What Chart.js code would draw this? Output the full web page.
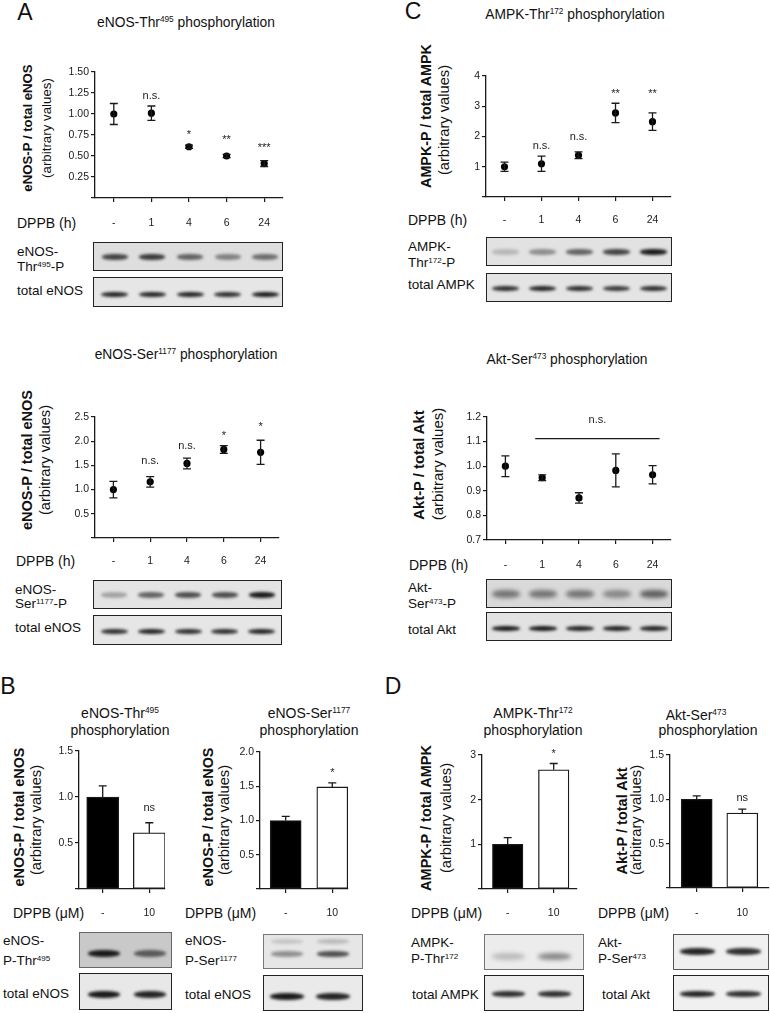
<!DOCTYPE html>
<html>
<head>
<meta charset="utf-8">
<script src="https://cdn.jsdelivr.net/npm/chart.js@4.4.1/dist/chart.umd.min.js"></script>
<style>
  body { margin: 0; background: #fff; }
  #page { position: relative; width: 770px; height: 1013px; overflow: hidden;
          font-family: 'Liberation Sans', Arial, sans-serif; color: #111; }
  .t { position: absolute; white-space: nowrap; line-height: 1; }
  .c { transform: translate(-50%, -50%); text-align: center; }
  .l { transform: translateY(-50%); }
  .rot { transform: translate(-50%, -50%) rotate(-90deg); }
  .b { font-weight: bold; }
  sup { font-size: 0.6em; vertical-align: baseline; position: relative; top: -0.55em; }
  canvas { position: absolute; }
  .blot { position: absolute; box-sizing: border-box; overflow: hidden; }
  .band { position: absolute; border-radius: 45%; }
</style>
</head>
<body>
<div id="page">
  <!-- panel A -->
  <div class="t c" style="left:25px;top:12px;font-size:23px">A</div>
  <div class="t c" style="left:186px;top:23px;font-size:13.8px">eNOS-Thr<sup>495</sup> phosphorylation</div>
  <div class="t rot b" style="left:28px;top:128px;font-size:13.2px">eNOS-P / total eNOS</div>
  <div class="t rot" style="left:47px;top:128px;font-size:13.3px">(arbitrary values)</div>
  <div class="t l" style="left:17px;top:223px;font-size:14px">DPPB (h)</div>
  <div class="t l" style="left:17px;top:252px;font-size:13.5px">eNOS-</div>
  <div class="t l" style="left:17px;top:267px;font-size:13.5px">Thr<sup>495</sup>-P</div>
  <div class="t l" style="left:17px;top:291px;font-size:13.5px">total eNOS</div>

  <div class="t c" style="left:186px;top:355px;font-size:13.8px">eNOS-Ser<sup>1177</sup> phosphorylation</div>
  <div class="t rot b" style="left:27px;top:460px;font-size:14.5px">eNOS-P / total eNOS</div>
  <div class="t rot" style="left:45px;top:460px;font-size:14.7px">(arbitrary values)</div>
  <div class="t l" style="left:16px;top:561px;font-size:14px">DPPB (h)</div>
  <div class="t l" style="left:15px;top:590px;font-size:13.5px">eNOS-</div>
  <div class="t l" style="left:15px;top:604px;font-size:13.5px">Ser<sup>1177</sup>-P</div>
  <div class="t l" style="left:15px;top:628px;font-size:13.5px">total eNOS</div>

  <!-- panel C -->
  <div class="t c" style="left:413px;top:11px;font-size:23px">C</div>
  <div class="t c" style="left:575px;top:15px;font-size:13.8px">AMPK-Thr<sup>172</sup> phosphorylation</div>
  <div class="t rot b" style="left:426px;top:116px;font-size:14.3px">AMPK-P / total AMPK</div>
  <div class="t rot" style="left:444px;top:120px;font-size:14.7px">(arbitrary values)</div>
  <div class="t l" style="left:408px;top:220px;font-size:14px">DPPB (h)</div>
  <div class="t l" style="left:408px;top:247px;font-size:13.5px">AMPK-</div>
  <div class="t l" style="left:408px;top:263px;font-size:13.5px">Thr<sup>172</sup>-P</div>
  <div class="t l" style="left:408px;top:285px;font-size:13.5px">total AMPK</div>

  <div class="t c" style="left:567px;top:360px;font-size:13.8px">Akt-Ser<sup>473</sup> phosphorylation</div>
  <div class="t rot b" style="left:419px;top:465px;font-size:14.8px">Akt-P / total Akt</div>
  <div class="t rot" style="left:437px;top:464px;font-size:15px">(arbitrary values)</div>
  <div class="t l" style="left:409px;top:565px;font-size:14px">DPPB (h)</div>
  <div class="t l" style="left:408px;top:588px;font-size:13.5px">Akt-</div>
  <div class="t l" style="left:408px;top:604px;font-size:13.5px">Ser<sup>473</sup>-P</div>
  <div class="t l" style="left:408px;top:630px;font-size:13.5px">total Akt</div>

  <!-- panel B -->
  <div class="t c" style="left:8px;top:686px;font-size:23px">B</div>
  <div class="t c" style="left:120px;top:722px;font-size:14px;line-height:15px">eNOS-Thr<sup>495</sup><br>phosphorylation</div>
  <div class="t rot b" style="left:19px;top:817px;font-size:14.4px">eNOS-P / total eNOS</div>
  <div class="t rot" style="left:36px;top:820px;font-size:14.7px">(arbitrary values)</div>
  <div class="t l" style="left:13px;top:913px;font-size:14px">DPPB (μM)</div>
  <div class="t l" style="left:3px;top:941px;font-size:13.5px">eNOS-</div>
  <div class="t l" style="left:3px;top:961px;font-size:13.5px">P-Thr<sup>495</sup></div>
  <div class="t l" style="left:3px;top:994px;font-size:13.5px">total eNOS</div>

  <div class="t c" style="left:309px;top:722px;font-size:14px;line-height:15px">eNOS-Ser<sup>1177</sup><br>phosphorylation</div>
  <div class="t rot b" style="left:208px;top:817px;font-size:14.4px">eNOS-P / total eNOS</div>
  <div class="t rot" style="left:224px;top:820px;font-size:14.7px">(arbitrary values)</div>
  <div class="t l" style="left:185px;top:913px;font-size:14px">DPPB (μM)</div>
  <div class="t l" style="left:185px;top:941px;font-size:13.5px">eNOS-</div>
  <div class="t l" style="left:185px;top:961px;font-size:13.5px">P-Ser<sup>1177</sup></div>
  <div class="t l" style="left:185px;top:995px;font-size:13.5px">total eNOS</div>

  <!-- panel D -->
  <div class="t c" style="left:393px;top:686px;font-size:23px">D</div>
  <div class="t c" style="left:533px;top:722px;font-size:14px;line-height:15px">AMPK-Thr<sup>172</sup><br>phosphorylation</div>
  <div class="t rot b" style="left:426px;top:818px;font-size:14.5px">AMPK-P / total AMPK</div>
  <div class="t rot" style="left:446px;top:818px;font-size:14.7px">(arbitrary values)</div>
  <div class="t l" style="left:411px;top:913px;font-size:14px">DPPB (μM)</div>
  <div class="t l" style="left:411px;top:943px;font-size:13.5px">AMPK-</div>
  <div class="t l" style="left:411px;top:959px;font-size:13.5px">P-Thr<sup>172</sup></div>
  <div class="t l" style="left:412px;top:995px;font-size:13.5px">total AMPK</div>

  <div class="t c" style="left:696px;top:715px;font-size:14px">Akt-Ser<sup>473</sup></div>
  <div class="t c" style="left:708px;top:730px;font-size:14px">phosphorylation</div>
  <div class="t rot b" style="left:622px;top:821px;font-size:14.5px">Akt-P / total Akt</div>
  <div class="t rot" style="left:636px;top:820px;font-size:14.7px">(arbitrary values)</div>
  <div class="t l" style="left:598px;top:913px;font-size:14px">DPPB (μM)</div>
  <div class="t l" style="left:598px;top:943px;font-size:13.5px">Akt-</div>
  <div class="t l" style="left:598px;top:959px;font-size:13.5px">P-Ser<sup>473</sup></div>
  <div class="t l" style="left:602px;top:995px;font-size:13.5px">total Akt</div>
</div>

<script>
// ---- data ----
const hoursLabels = ['-', '1', '4', '6', '24'];
const doseLabels = ['-', '10'];

// A: eNOS-Thr495 time course
const thr495Mean = [1.00, 1.01, 0.61, 0.50, 0.41];
const thr495Err = [0.125, 0.085, 0.02, 0.02, 0.035];
const thr495Sig = ['', 'n.s.', '*', '**', '***'];
const thr495SigAt = [null, 1.215, 0.75, 0.69, 0.60];

// A: eNOS-Ser1177 time course
const ser1177Mean = [1.00, 1.16, 1.54, 1.83, 1.77];
const ser1177Err = [0.17, 0.11, 0.11, 0.08, 0.25];
const ser1177Sig = ['', 'n.s.', 'n.s.', '*', '*'];
const ser1177SigAt = [null, 1.60, 1.90, 2.11, 2.29];

// C: AMPK-Thr172 time course
const ampkMean = [1.00, 1.10, 1.38, 2.78, 2.49];
const ampkErr = [0.15, 0.25, 0.11, 0.32, 0.29];
const ampkSig = ['', 'n.s.', 'n.s.', '**', '**'];
const ampkSigAt = [null, 1.69, 1.99, 3.40, 3.40];

// C: Akt-Ser473 time course (one n.s. bracket over 1-24 h)
const aktMean = [1.000, 0.953, 0.871, 0.983, 0.965];
const aktErr = [0.042, 0.012, 0.021, 0.067, 0.037];
const aktSig = ['', '', '', '', ''];
const aktSigAt = [null, null, null, null, null];

// B / D: 10 µM DPPB vs control
const barThr495 = [1.00, 0.61];
const barThr495Err = [0.12, 0.11];
const barThr495Sig = ['', 'ns'];
const barThr495SigAt = [null, 0.88];

const barSer1177 = [1.00, 1.49];
const barSer1177Err = [0.06, 0.06];
const barSer1177Sig = ['', '*'];
const barSer1177SigAt = [null, 1.69];

const barAmpk = [1.00, 2.67];
const barAmpkErr = [0.15, 0.14];
const barAmpkSig = ['', '*'];
const barAmpkSigAt = [null, 3.02];

const barAkt = [1.00, 0.845];
const barAktErr = [0.04, 0.045];
const barAktSig = ['', 'ns'];
const barAktSigAt = [null, 1.013];

// band darkness of the blots (0 = none, 1 = black)
const blotThr495P = [0.75, 0.8, 0.6, 0.45, 0.55];
const blotThr495T = [0.9, 0.9, 0.9, 0.85, 0.95];
const blotSer1177P = [0.3, 0.6, 0.7, 0.7, 0.95];
const blotSer1177T = [0.85, 0.9, 0.85, 0.85, 0.9];
const blotAmpkP = [0.2, 0.4, 0.6, 0.75, 0.95];
const blotAmpkT = [0.85, 0.9, 0.85, 0.8, 0.85];
const blotAktP = [0.5, 0.5, 0.5, 0.4, 0.6];
const blotAktT = [0.95, 0.95, 0.9, 0.9, 0.9];

// ---- layout ----
const page = document.getElementById('page');
const ML = 44, MR = 14, MT = 18, MB = 40;
const ink = '#1a1a1a';
const tickFont = "'Liberation Sans Narrow','Liberation Sans',Arial,sans-serif";

const errorBars = {
    id: 'errorBars',
    afterDatasetsDraw(chart, args, opts) {
        const { ctx, scales: { y } } = chart;
        const ds = chart.data.datasets[0].data;
        const pts = chart.getDatasetMeta(0).data;
        ctx.save();
        ctx.strokeStyle = ink;
        ctx.lineWidth = 1.3;
        pts.forEach((el, i) => {
            const v = typeof ds[i] === 'object' ? ds[i].y : ds[i];
            const top = y.getPixelForValue(v + opts.err[i]);
            const bot = opts.upOnly ? el.y : y.getPixelForValue(v - opts.err[i]);
            ctx.beginPath();
            ctx.moveTo(el.x, top); ctx.lineTo(el.x, bot);
            ctx.moveTo(el.x - opts.cap, top); ctx.lineTo(el.x + opts.cap, top);
            if (!opts.upOnly) { ctx.moveTo(el.x - opts.cap, bot); ctx.lineTo(el.x + opts.cap, bot); }
            ctx.stroke();
        });
        ctx.fillStyle = '#222';
        ctx.textAlign = 'center';
        ctx.textBaseline = 'middle';
        ctx.font = '11px "Liberation Sans", Arial, sans-serif';
        pts.forEach((el, i) => {
            if (opts.sig[i]) ctx.fillText(opts.sig[i], el.x, y.getPixelForValue(opts.sigAt[i]));
        });
        const br = opts.bracket;
        if (br) {
            const yy = y.getPixelForValue(br.at);
            ctx.beginPath();
            ctx.moveTo(pts[br.from].x - 7, yy);
            ctx.lineTo(pts[br.to].x + 7, yy);
            ctx.stroke();
            ctx.fillText(br.label, (pts[br.from].x + pts[br.to].x) / 2, y.getPixelForValue(br.labelAt));
        }
        ctx.restore();
    }
};

function makeCanvas(box) {
    const c = document.createElement('canvas');
    c.width = box.right - box.left + ML + MR;
    c.height = box.bottom - box.top + MT + MB;
    c.style.left = (box.left - ML) + 'px';
    c.style.top = (box.top - MT) + 'px';
    page.appendChild(c);
    return c;
}

function yScale(ax) {
    return {
        min: ax.min, max: ax.max,
        ticks: {
            stepSize: ax.step, color: ink, padding: 2,
            font: { family: tickFont, size: 10.5 },
            callback: v => (Math.abs(v) < 1e-9 && !ax.zero) ? '' : Number(v).toFixed(ax.dec)
        },
        grid: { drawOnChartArea: false, color: ink, tickLength: 4, lineWidth: 1.2 },
        border: { color: ink, width: 1.3 },
        afterFit: s => { s.width = ML; }
    };
}

function xCommon(box, size) {
    return {
        grid: { offset: false, drawOnChartArea: false, color: ink, tickLength: 4, lineWidth: 1.2 },
        border: { color: ink, width: 1.3 },
        ticks: { color: ink, font: { family: tickFont, size }, padding: box.labelY - box.bottom - 4 - 0.6 * size,
                 maxRotation: 0, autoSkip: false },
        afterFit: s => { s.height = MB; }
    };
}

const baseOpts = {
    responsive: false, animation: false, events: [],
    layout: { padding: { top: MT, right: MR, left: 0, bottom: 0 }, autoPadding: false },
};

function timePanel(box, means, err, sig, sigAt, ax, bracket) {
    const x = xCommon(box, 10.5);
    x.type = 'category';
    x.offset = true;
    return new Chart(makeCanvas(box), {
        type: 'line',
        data: { labels: hoursLabels, datasets: [{ data: means, showLine: false, pointRadius: 3.6,
                pointBackgroundColor: '#000', pointBorderWidth: 0 }] },
        options: { ...baseOpts,
            plugins: { legend: { display: false }, tooltip: { enabled: false },
                       errorBars: { err, sig, sigAt, cap: 4, bracket } },
            scales: { x, y: yScale(ax) } },
        plugins: [errorBars]
    });
}

function dosePanel(box, means, err, sig, sigAt, ax) {
    const [t0, t1] = box.ticksPx;
    const x = xCommon(box, 10.5);
    Object.assign(x, {
        type: 'linear', offset: false,
        min: 1 - (t0 - box.left) / (t1 - t0),
        max: 2 + (box.right - t1) / (t1 - t0),
        afterBuildTicks: s => { s.ticks = doseLabels.map((_, i) => ({ value: i + 1 })); }
    });
    x.ticks.callback = v => doseLabels[Math.round(v) - 1] ?? '';
    return new Chart(makeCanvas(box), {
        type: 'bar',
        data: { datasets: [{ data: means.map((v, i) => ({ x: i + 1, y: v })),
                backgroundColor: ['#000', '#fff'], borderColor: ink, borderWidth: 1.3,
                borderSkipped: false, barThickness: box.barW }] },
        options: { ...baseOpts,
            plugins: { legend: { display: false }, tooltip: { enabled: false },
                       errorBars: { err, sig, sigAt, cap: 4, upOnly: true } },
            scales: { x, y: yScale(ax) } },
        plugins: [errorBars]
    });
}

// page x of each lane, taken from the chart's own x scale
function lanes(chart, box) {
    const s = chart.scales.x;
    return chart.getDatasetMeta(0).data.map(el => box.left - ML + el.x);
}

function blot(b, lanesX, rows) {
    const d = document.createElement('div');
    d.className = 'blot';
    Object.assign(d.style, { left: b.x + 'px', top: b.y + 'px', width: b.w + 'px', height: b.h + 'px',
                             background: b.bg, border: b.border || '1.5px solid #222' });
    page.appendChild(d);
    rows.forEach(r => {
        r.shade.forEach((a, i) => {
            const e = document.createElement('div');
            e.className = 'band';
            Object.assign(e.style, {
                left: (lanesX[i] - b.x - r.w / 2) + 'px', top: (r.y - b.y - r.h / 2) + 'px',
                width: r.w + 'px', height: r.h + 'px',
                background: `rgba(15,15,15,${a})`, filter: `blur(${r.blur || 1.6}px)`
            });
            d.appendChild(e);
        });
    });
}

// ---- panels ----
const boxA1 = { left: 95, right: 283, top: 72, bottom: 198, labelY: 223 };
const chA1 = timePanel(boxA1, thr495Mean, thr495Err, thr495Sig, thr495SigAt, { min: 0, max: 1.5, step: 0.25, dec: 2 });
const laneA1 = lanes(chA1, boxA1);
blot({ x: 93, y: 242, w: 190, h: 29, bg: '#dedede' }, laneA1, [{ y: 256, w: 26, h: 6, shade: blotThr495P }]);
blot({ x: 93, y: 277, w: 190, h: 30, bg: '#e6e6e6' }, laneA1, [{ y: 293, w: 27, h: 5, shade: blotThr495T }]);

const boxA2 = { left: 95, right: 279, top: 417, bottom: 538, labelY: 561 };
const chA2 = timePanel(boxA2, ser1177Mean, ser1177Err, ser1177Sig, ser1177SigAt, { min: 0, max: 2.5, step: 0.5, dec: 1 });
const laneA2 = lanes(chA2, boxA2);
blot({ x: 93, y: 580, w: 189, h: 29, bg: '#e4e4e4' }, laneA2, [{ y: 594, w: 26, h: 6, shade: blotSer1177P }]);
blot({ x: 93, y: 615, w: 189, h: 30, bg: '#e6e6e6' }, laneA2, [{ y: 630, w: 27, h: 5, shade: blotSer1177T }]);

const boxC1 = { left: 486, right: 671, top: 76, bottom: 197, labelY: 220 };
const chC1 = timePanel(boxC1, ampkMean, ampkErr, ampkSig, ampkSigAt, { min: 0, max: 4, step: 1, dec: 0 });
const laneC1 = lanes(chC1, boxC1);
blot({ x: 486, y: 237, w: 186, h: 29, bg: '#e2e2e2' }, laneC1, [{ y: 251, w: 27, h: 6, shade: blotAmpkP }]);
blot({ x: 486, y: 273, w: 186, h: 29, bg: '#e4e4e4' }, laneC1, [{ y: 287, w: 27, h: 5, shade: blotAmpkT }]);

const boxC2 = { left: 487, right: 671, top: 417, bottom: 540, labelY: 565 };
const chC2 = timePanel(boxC2, aktMean, aktErr, aktSig, aktSigAt, { min: 0.7, max: 1.2, step: 0.1, dec: 1, zero: true },
    { from: 1, to: 4, at: 1.112, label: 'n.s.', labelAt: 1.186 });
const laneC2 = lanes(chC2, boxC2);
blot({ x: 486, y: 579, w: 186, h: 29, bg: '#d9d9d9' }, laneC2, [{ y: 593, w: 28, h: 8, blur: 2.2, shade: blotAktP }]);
blot({ x: 486, y: 612, w: 186, h: 29, bg: '#e2e2e2' }, laneC2, [{ y: 627, w: 28, h: 5, shade: blotAktT }]);

const boxB1 = { left: 79, right: 165, top: 751, bottom: 889, labelY: 913, ticksPx: [102.7, 149.3], barW: 32 };
const chB1 = dosePanel(boxB1, barThr495, barThr495Err, barThr495Sig, barThr495SigAt, { min: 0, max: 1.5, step: 0.5, dec: 1 });
const laneB1 = lanes(chB1, boxB1);
blot({ x: 79, y: 932, w: 93, h: 36, bg: '#c9c9c9', border: '1.2px solid #666' }, laneB1, [{ y: 952, w: 32, h: 7, shade: [0.95, 0.6] }]);
blot({ x: 79, y: 973, w: 93, h: 37, bg: '#e8e8e8' }, laneB1, [{ y: 993, w: 32, h: 7, shade: [0.95, 0.9] }]);

const boxB2 = { left: 260, right: 348, top: 752, bottom: 889, labelY: 913, ticksPx: [285.7, 332.3], barW: 31 };
const chB2 = dosePanel(boxB2, barSer1177, barSer1177Err, barSer1177Sig, barSer1177SigAt, { min: 0, max: 2.0, step: 0.5, dec: 1 });
const laneB2 = lanes(chB2, boxB2);
blot({ x: 263, y: 934, w: 100, h: 35, bg: '#e6e6e6', border: '1.2px solid #777' }, laneB2,
     [{ y: 940, w: 32, h: 5, shade: [0.15, 0.2] }, { y: 953, w: 32, h: 6, shade: [0.4, 0.7] }]);
blot({ x: 263, y: 975, w: 100, h: 36, bg: '#eaeaea' }, laneB2, [{ y: 995, w: 34, h: 7, shade: [0.95, 0.9] }]);

const boxD1 = { left: 482, right: 577, top: 755, bottom: 889, labelY: 913, ticksPx: [507.7, 553.7], barW: 30.5 };
const chD1 = dosePanel(boxD1, barAmpk, barAmpkErr, barAmpkSig, barAmpkSigAt, { min: 0, max: 3, step: 1, dec: 0 });
const laneD1 = lanes(chD1, boxD1);
blot({ x: 484, y: 934, w: 100, h: 36, bg: '#ececec', border: '1.2px solid #777' }, laneD1, [{ y: 955, w: 33, h: 7, blur: 2.2, shade: [0.22, 0.45] }]);
blot({ x: 484, y: 975, w: 100, h: 36, bg: '#ececec' }, laneD1, [{ y: 993, w: 33, h: 6, shade: [0.85, 0.85] }]);

const boxD2 = { left: 670, right: 769, top: 755, bottom: 888, labelY: 913, ticksPx: [696.7, 742.3], barW: 31 };
const chD2 = dosePanel(boxD2, barAkt, barAktErr, barAktSig, barAktSigAt, { min: 0, max: 1.5, step: 0.5, dec: 1 });
const laneD2 = lanes(chD2, boxD2);
blot({ x: 673, y: 934, w: 96, h: 36, bg: '#f0f0f0', border: '1.2px solid #555' }, laneD2, [{ y: 950, w: 35, h: 7, shade: [0.9, 0.85] }]);
blot({ x: 673, y: 975, w: 96, h: 36, bg: '#f0f0f0' }, laneD2, [{ y: 993, w: 35, h: 6, shade: [0.9, 0.85] }]);
</script>
</body>
</html>
